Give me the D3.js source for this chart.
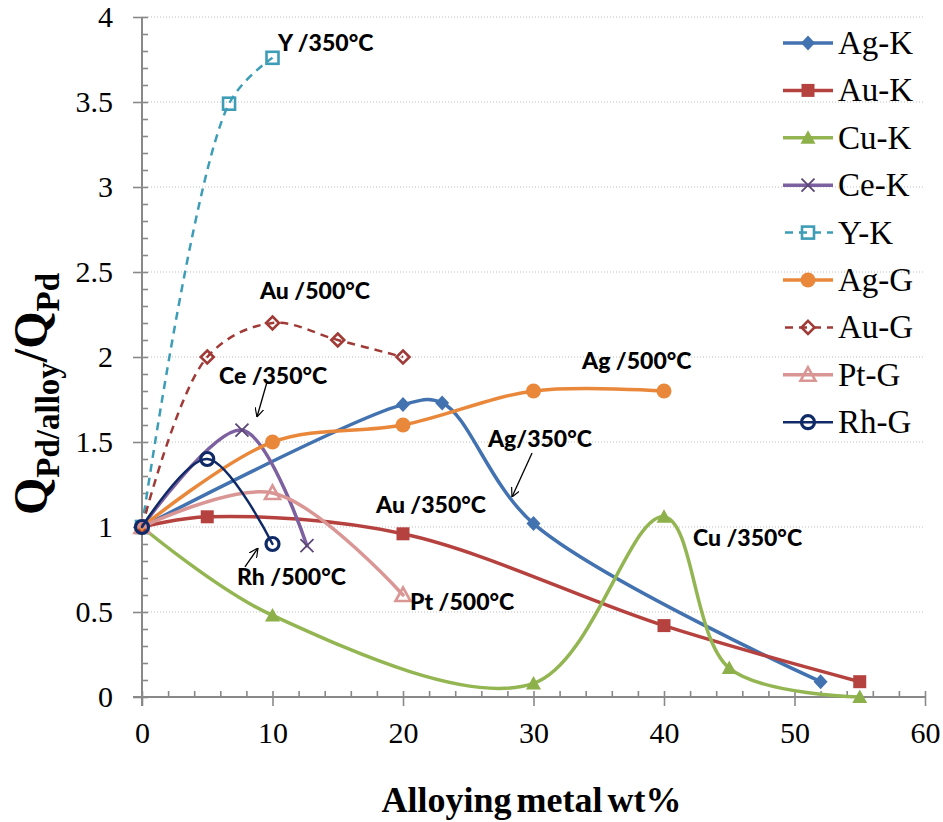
<!DOCTYPE html>
<html>
<head>
<meta charset="utf-8">
<script src="https://cdn.jsdelivr.net/npm/d3@7"></script>
<style>
  body { margin: 0; background: #fff; }
  svg { display: block; }
</style>
</head>
<body>
<div id="chart"></div>
<script>
// datos: cada serie con su x (wt%) e y (Q ratio)
var seriesNames = ['Ag-K','Au-K','Cu-K','Ce-K','Y-K','Ag-G','Au-G','Pt-G','Rh-G']
var agK_x = [0, 20, 23, 30, 52],        agK_y = [1, 1.72, 1.73, 1.02, 0.09]
var auK_x = [0, 5, 20, 40, 55],         auK_y = [1, 1.06, 0.96, 0.42, 0.09]
var cuK_x = [0, 10, 30, 40, 45, 55],    cuK_y = [1, 0.48, 0.08, 1.06, 0.17, 0]
var ceK_x = [0, 7.66, 12.64],           ceK_y = [1, 1.57, 0.89]
var yK_x  = [0, 6.67, 10],              yK_y  = [1, 3.49, 3.76]
var agG_x = [0, 10, 20, 30, 40],        agG_y = [1, 1.5, 1.6, 1.8, 1.8]
var auG_x = [0, 5, 10, 15, 20],         auG_y = [1, 2.0, 2.2, 2.1, 2.0]
var ptG_x = [0, 10, 20],                ptG_y = [1, 1.2, 0.6]
var rhG_x = [0, 5, 10],                 rhG_y = [1, 1.4, 0.9]

var xTicks = [0, 10, 20, 30, 40, 50, 60]
var yTicks = [0, 0.5, 1, 1.5, 2, 2.5, 3, 3.5, 4]

// anotaciones (en unidades de datos)
var labelText = ['Y /350°C','Au /500°C','Ce /350°C','Ag /500°C','Ag/350°C','Au /350°C','Cu /350°C','Pt /500°C','Rh /500°C']
var labelX = [10.43, 9.04, 5.90, 33.72, 26.51, 17.93, 42.22, 20.54, 7.28]
var labelY = [3.80, 2.34, 1.84, 1.93, 1.47, 1.08, 0.89, 0.51, 0.66]
var arrowFrom = [[9.58, 1.853], [29.89, 1.435], [7.89, 0.765]]
var arrowTo   = [[8.81, 1.647], [28.35, 1.176], [8.89, 0.876]]

var xs = [agK_x, auK_x, cuK_x, ceK_x, yK_x, agG_x, auG_x, ptG_x, rhG_x]
var ys = [agK_y, auK_y, cuK_y, ceK_y, yK_y, agG_y, auG_y, ptG_y, rhG_y]

// estilos
var colors  = ['#4372B0','#B5423F','#93B552','#7D60A0','#3D9DB6','#E9873A','#A03A37','#D99694','#0F2A66']
var mColors = ['#4372B0','#B5423F','#8DB04A','#5C4778','#3D9DB6','#E9873A','#A03A37','#D99694','#0F2A66']
var symbols = ['diamond','square','triangle','x','hsquare','circle','hdiamond','htriangle','hcircle']
var dashed  = [false,false,false,false,true,false,true,false,false]
var widths  = [3.5,3.5,3.5,3.5,2.5,3.5,2.5,3.5,2.5]

var width = 943, height = 822
var serif = '"Liberation Serif", "Times New Roman", serif'

var eX = d3.scaleLinear().domain([0, 60]).range([142, 925])
var eY = d3.scaleLinear().domain([0, 4]).range([697, 17])

var svg = d3.select('#chart').append('svg')
  .attr('width', width).attr('height', height)

svg.append('defs').append('marker')
  .attr('id', 'arrow')
  .attr('viewBox', '0 0 10 10')
  .attr('refX', 10).attr('refY', 5)
  .attr('markerWidth', 9).attr('markerHeight', 9)
  .attr('markerUnits', 'userSpaceOnUse')
  .attr('orient', 'auto')
  .append('path')
  .attr('d', 'M0,0 L10,5 L0,10')
  .attr('fill', 'none').attr('stroke', '#000').attr('stroke-width', 1.3)

// rejilla
svg.append('g').selectAll('line')
  .data(yTicks.filter(function(d){ return d > 0 }))
  .enter().append('line')
  .attr('x1', eX(0)).attr('x2', eX(60))
  .attr('y1', function(d){ return eY(d) }).attr('y2', function(d){ return eY(d) })
  .attr('stroke', '#BDBDBD').attr('stroke-width', 1).attr('stroke-dasharray', '1,2')

// ejes
var axisColor = '#898989'
var yMinor = d3.range(0, 41).map(function(i){ return i / 10 })
var xMinor = d3.range(0, 31).map(function(i){ return i * 2 })

var gyMinor = svg.append('g').attr('transform', 'translate(' + eX(0) + ',0)')
  .call(d3.axisRight(eY).tickValues(yMinor).tickSize(6).tickFormat(''))
var gyMajor = svg.append('g').attr('transform', 'translate(' + eX(0) + ',0)')
  .call(d3.axisLeft(eY).tickValues(yTicks).tickSize(9).tickPadding(20).tickFormat(d3.format('')))
var gxMinor = svg.append('g').attr('transform', 'translate(0,' + eY(0) + ')')
  .call(d3.axisTop(eX).tickValues(xMinor).tickSize(6).tickFormat(''))
var gxMajor = svg.append('g').attr('transform', 'translate(0,' + eY(0) + ')')
  .call(d3.axisBottom(eX).tickValues(xTicks).tickSize(9).tickPadding(16).tickFormat(d3.format('')))

;[gyMinor, gyMajor, gxMinor, gxMajor].forEach(function(g){
  g.attr('font-family', serif).attr('font-size', 30)
  g.select('.domain').remove()
  g.selectAll('line').attr('stroke', axisColor).attr('stroke-width', 1.6)
  g.selectAll('text').attr('fill', '#000')
    .style('font-family', serif)
    .style('font-size', '30px')
})

svg.append('line')
  .attr('x1', eX(0)).attr('x2', eX(0)).attr('y1', eY(4)).attr('y2', eY(0) + 9)
  .attr('stroke', axisColor).attr('stroke-width', 2)
svg.append('line')
  .attr('x1', eX(0) - 9).attr('x2', eX(60)).attr('y1', eY(0)).attr('y2', eY(0))
  .attr('stroke', axisColor).attr('stroke-width', 2)

// simbolos
function drawSymbol(g, type, cx, cy, col) {
  var s
  if (type == 'diamond') {
    s = g.append('path').attr('d', 'M' + cx + ',' + (cy - 7.5) + 'L' + (cx + 7) + ',' + cy + 'L' + cx + ',' + (cy + 7.5) + 'L' + (cx - 7) + ',' + cy + 'Z')
  } else if (type == 'hdiamond') {
    s = g.append('path').attr('d', 'M' + cx + ',' + (cy - 6.5) + 'L' + (cx + 6.5) + ',' + cy + 'L' + cx + ',' + (cy + 6.5) + 'L' + (cx - 6.5) + ',' + cy + 'Z')
  } else if (type == 'square' || type == 'hsquare') {
    var h = type == 'square' ? 6.5 : 6
    s = g.append('rect').attr('x', cx - h).attr('y', cy - h).attr('width', 2 * h).attr('height', 2 * h)
  } else if (type == 'triangle' || type == 'htriangle') {
    s = g.append('path').attr('d', 'M' + cx + ',' + (cy - 7.5) + 'L' + (cx + 7.5) + ',' + (cy + 6) + 'L' + (cx - 7.5) + ',' + (cy + 6) + 'Z')
  } else if (type == 'circle' || type == 'hcircle') {
    s = g.append('circle').attr('cx', cx).attr('cy', cy).attr('r', type == 'circle' ? 7.5 : 6.5)
  } else if (type == 'x') {
    g.append('path').attr('d', 'M' + (cx - 6.5) + ',' + (cy - 6.5) + 'L' + (cx + 6.5) + ',' + (cy + 6.5) + 'M' + (cx + 6.5) + ',' + (cy - 6.5) + 'L' + (cx - 6.5) + ',' + (cy + 6.5))
      .attr('fill', 'none').attr('stroke', col).attr('stroke-width', 1.8)
    return
  }
  if (type.charAt(0) == 'h') {
    s.attr('fill', 'none').attr('stroke', col).attr('stroke-width', type == 'hcircle' ? 3.2 : 2.6)
  } else {
    s.attr('fill', col).attr('stroke', 'none')
  }
}

// series
var line = d3.line()
  .x(function(d){ return eX(d[0]) })
  .y(function(d){ return eY(d[1]) })
  .curve(d3.curveCatmullRom.alpha(0.5))

for (var i = 0; i < seriesNames.length; i++) {
  var pts = xs[i].map(function(x, j){ return [x, ys[i][j]] })
  var g = svg.append('g').attr('class', 'serie')
  g.append('path')
    .datum(pts)
    .attr('d', line)
    .attr('fill', 'none')
    .attr('stroke', colors[i])
    .attr('stroke-width', widths[i])
    .attr('stroke-linecap', dashed[i] ? 'butt' : 'round')
    .attr('stroke-dasharray', dashed[i] ? '8,6' : null)
  pts.forEach(function(p){
    drawSymbol(g, symbols[i], eX(p[0]), eY(p[1]), mColors[i])
  })
}

// anotaciones
svg.append('g').selectAll('text')
  .data(labelText)
  .enter().append('text')
  .attr('x', function(d, i){ return eX(labelX[i]) })
  .attr('y', function(d, i){ return eY(labelY[i]) })
  .text(function(d){ return d })
  .style('font-family', 'Lato, "Open Sans", sans-serif')
  .style('font-weight', '900')
  .style('font-size', '23px')
  .attr('fill', '#000')

svg.append('g').selectAll('line')
  .data(arrowFrom)
  .enter().append('line')
  .attr('x1', function(d){ return eX(d[0]) })
  .attr('y1', function(d){ return eY(d[1]) })
  .attr('x2', function(d, i){ return eX(arrowTo[i][0]) })
  .attr('y2', function(d, i){ return eY(arrowTo[i][1]) })
  .attr('stroke', '#000').attr('stroke-width', 1.3)
  .attr('marker-end', 'url(#arrow)')

// leyenda
var legend = svg.append('g').selectAll('.legend')
  .data(seriesNames)
  .enter().append('g')
  .attr('class', 'legend')
  .attr('transform', function(d, i){ return 'translate(0,' + (43 + i * 47.4) + ')' })

legend.each(function(d, i){
  var g = d3.select(this)
  g.append('line')
    .attr('x1', 783).attr('x2', 833).attr('y1', 0).attr('y2', 0)
    .attr('stroke', colors[i]).attr('stroke-width', widths[i])
    .attr('stroke-dasharray', dashed[i] ? '8,6' : null)
    .attr('stroke-dashoffset', dashed[i] ? -2 : null)
  drawSymbol(g, symbols[i], 808, 0, mColors[i])
  g.append('text')
    .attr('x', 838).attr('y', 11)
    .text(d)
    .style('font-family', serif)
    .style('font-size', '33px')
})

// titulos de ejes
svg.append('text')
  .attr('x', (eX(0) + eX(60)) / 2 - 2).attr('y', 812)
  .attr('text-anchor', 'middle')
  .style('font-family', serif)
  .style('font-weight', 'bold')
  .style('font-size', '36px')
  .style('word-spacing', '-4px')
  .text('Alloying metal wt%')

var yt = svg.append('text')
  .attr('transform', 'translate(47,394) rotate(-90)')
  .attr('text-anchor', 'middle')
  .style('font-family', serif)
  .style('font-weight', 'bold')
yt.append('tspan').style('font-size', '48px').text('Q')
yt.append('tspan').style('font-size', '33px').attr('dy', 12).text('Pd/alloy')
yt.append('tspan').style('font-size', '48px').attr('dy', -12).text('/Q')
yt.append('tspan').style('font-size', '33px').attr('dy', 12).text('Pd')
</script>
</body>
</html>
